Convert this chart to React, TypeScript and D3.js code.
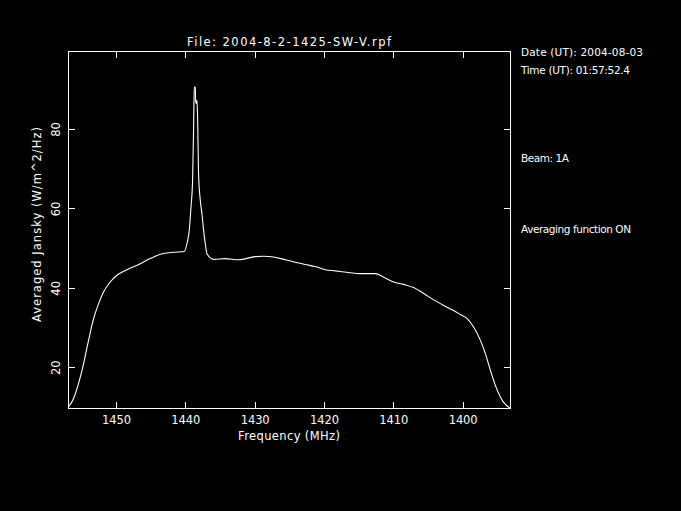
import { useEffect } from 'react';
import * as d3 from 'd3';

// spectrum (MHz, averaged Jansky)
const freqMHz = [
  1456.93, 1456.83, 1456.21, 1455.49, 1454.76, 1454.04, 1453.32, 1452.6, 1451.88, 1450.91,
  1449.94, 1448.5, 1446.58, 1445.14, 1443.69, 1441.76, 1440.23, 1439.84, 1439.51, 1439.26,
  1439.03, 1438.89, 1438.79, 1438.64, 1438.6, 1438.5, 1438.4, 1438.31, 1438.17, 1437.92,
  1437.68, 1437.44, 1437.2, 1436.95, 1436.0, 1434.31, 1432.39, 1429.98, 1428.78, 1427.34,
  1425.62, 1424.23, 1422.79, 1421.34, 1419.9, 1418.46, 1416.51, 1414.83, 1412.67, 1411.46,
  1410.02, 1408.58, 1407.14, 1405.69, 1404.25, 1402.81, 1401.37, 1400.39, 1399.42, 1398.47,
  1397.51, 1396.78, 1396.06, 1395.34, 1394.62, 1393.9, 1393.2,
];
const jansky = [
  10.2, 10.4, 12.2, 16.0, 21.0, 26.9, 32.3, 36.1, 39.1, 41.6,
  43.3, 44.7, 46.2, 47.5, 48.6, 49.1, 49.3, 51.3, 54.6, 60.5,
  67.2, 79.8, 90.7, 90.7, 87.4, 86.6, 87.4, 83.2, 68.9, 62.2,
  58.8, 54.6, 51.3, 48.7, 47.3, 47.5, 47.2, 48.0, 48.1, 47.9,
  47.2, 46.6, 46.0, 45.5, 44.7, 44.4, 44.0, 43.7, 43.7, 42.8,
  41.6, 41.0, 40.2, 38.7, 37.1, 35.7, 34.4, 33.4, 32.4, 30.2,
  26.9, 23.5, 19.3, 15.5, 12.6, 10.75, 9.8,
];

const xTicks = [1450, 1440, 1430, 1420, 1410, 1400];
const yTicks = [20, 40, 60, 80];

const titleText = 'File: 2004-8-2-1425-SW-V.rpf';
const xLabel = 'Frequency (MHz)';
const yLabel = 'Averaged Jansky (W/m^2/Hz)';
const sideNotes = [
  'Date (UT): 2004-08-03',
  'Time (UT): 01:57:52.4',
  'Beam: 1A',
  'Averaging function ON',
];

// layout
const W = 681;
const H = 511;
const left = 68.5;
const right = 510.5;
const top = 51.5;
const bottom = 408.5;
const tickLen = 6.5;
const font = '"DejaVu Sans", sans-serif';
const noteY = [56, 73.5, 161.5, 233];
const noteLen = [122, 109, 48, 110];

export default function App() {
  useEffect(() => {
    document.body.style.margin = '0';
    document.body.style.background = '#000';
  }, []);

  const x = d3.scaleLinear().domain([1456.93, 1393.17]).range([left, right]);
  const y = d3.scaleLinear().domain([9.74, 99.66]).range([bottom, top]);

  const line = d3.line<number>()
    .x((_, i) => x(freqMHz[i]))
    .y(d => y(d))
    .curve(d3.curveMonotoneX);

  return (
    <svg width={W} height={H} style={{ display: 'block', background: '#000' }}>
      <rect x={0} y={0} width={W} height={H} fill="#000" />

      <path d={line(jansky) ?? ''} fill="none" stroke="#fff" strokeWidth={1.1} />

      <rect x={left} y={top} width={right - left} height={bottom - top}
        fill="none" stroke="#fff" strokeWidth={1} shapeRendering="crispEdges" />

      <g stroke="#fff" strokeWidth={1} shapeRendering="crispEdges">
        {xTicks.map(t => (
          <g key={'x' + t}>
            <line x1={x(t)} x2={x(t)} y1={bottom} y2={bottom - tickLen} />
            <line x1={x(t)} x2={x(t)} y1={top} y2={top + tickLen} />
          </g>
        ))}
        {yTicks.map(t => (
          <g key={'y' + t}>
            <line x1={left} x2={left + tickLen} y1={y(t)} y2={y(t)} />
            <line x1={right} x2={right - tickLen} y1={y(t)} y2={y(t)} />
          </g>
        ))}
      </g>

      <g fill="#fff" fontFamily={font} fontSize={11.5}>
        {xTicks.map(t => (
          <text key={'xl' + t} x={x(t)} y={424} textAnchor="middle" textLength={29} lengthAdjust="spacing">{t}</text>
        ))}
        {yTicks.map(t => (
          <text key={'yl' + t} transform={`translate(60,${y(t)}) rotate(-90)`} textAnchor="middle">{t}</text>
        ))}
        <text x={289} y={46} textAnchor="middle" textLength={204} lengthAdjust="spacing">{titleText}</text>
        <text x={289} y={440} textAnchor="middle" textLength={102} lengthAdjust="spacing">{xLabel}</text>
        <text transform="translate(41,224.5) rotate(-90)" textAnchor="middle" textLength={195} lengthAdjust="spacing">{yLabel}</text>
        {sideNotes.map((n, i) => (
          <text key={n} x={521} y={noteY[i]} fontSize={10.5} textLength={noteLen[i]} lengthAdjust="spacing">{n}</text>
        ))}
      </g>
    </svg>
  );
}
